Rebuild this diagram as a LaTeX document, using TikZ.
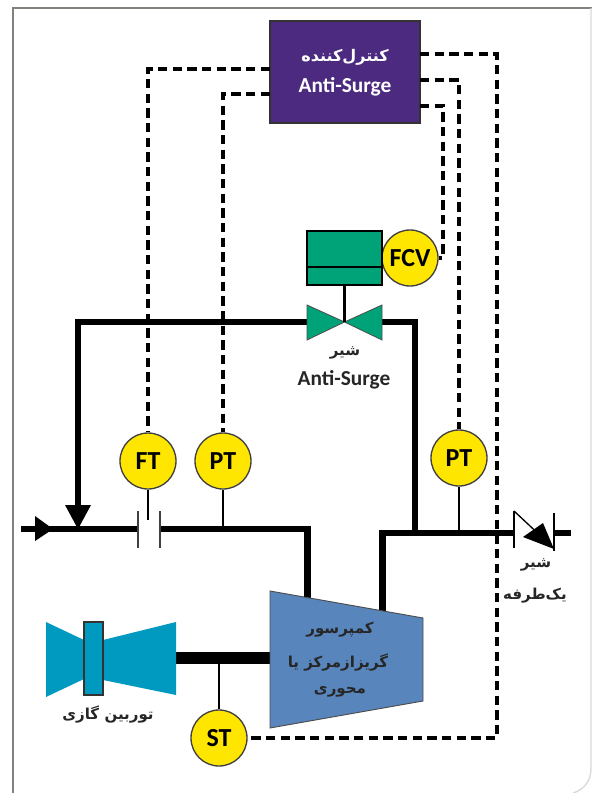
\documentclass[tikz,border=0pt]{standalone}
\usepackage{fontspec}
\usepackage{xcolor}
\usepackage{tikz}
\usetikzlibrary{calc,arrows.meta}
\setmainfont{Carlito}
\newfontfamily\arabicfont[Script=Arabic]{DejaVu Sans}
\TeXXeTstate=1
\newcommand{\fa}[1]{{\arabicfont\bfseries\beginR #1\endR}}
\definecolor{ctrlpurple}{RGB}{75,42,127}
\definecolor{valvegreen}{RGB}{0,163,120}
\definecolor{tagyellow}{RGB}{255,230,0}
\definecolor{compblue}{RGB}{88,133,187}
\definecolor{turbblue}{RGB}{0,153,192}
\definecolor{framegray}{RGB}{130,130,125}

\tikzset{
  tagnode/.style={circle,draw=black!75,line width=1pt,fill=tagyellow,minimum size=42pt,inner sep=0pt,font=\fontsize{19.5}{21}\selectfont\bfseries},
  signal/.style={line width=2.4pt,dash pattern=on 7pt off 4pt},
  pipe/.style={line width=4.7pt,line join=miter},
  stem/.style={line width=1.7pt},
  falabel/.style={font=\fontsize{11.3}{13}\selectfont,inner sep=0pt,text=black!85},
  enlabel/.style={font=\fontsize{16}{18}\selectfont\bfseries,inner sep=0pt}
}

\begin{document}
\begin{tikzpicture}[x=0.75pt,y=-0.75pt,>=Latex]
\useasboundingbox (0,0) rectangle (592,793);
% frame
\draw[framegray,line width=1.5pt] (592,8) -- (13,8) -- (13,793);
\draw[black!15,line width=1pt] (591,8) -- (591,768) .. controls (591,782) and (583,790) .. (573,793);

% controller
\node[draw=black!80,fill=ctrlpurple,line width=1pt,minimum width=112.5pt,minimum height=76.5pt,inner sep=0pt] (ctrl) at (345,72) {};
\node[falabel,text=white,font=\fontsize{12}{14}\selectfont] (ctrltitle) at (345,57) {\fa{کنترل‌کننده}};
\node[enlabel,text=white] (ctrlname) at (345,87) {Anti-Surge};
\coordinate (ctrlA) at (270,69);
\coordinate (ctrlB) at (270,94);
\coordinate (ctrlC) at (420,54);
\coordinate (ctrlD) at (420,80);
\coordinate (ctrlE) at (420,106);

% tags
\foreach \nm/\x/\y/\txt in {ftag/148/461/FT,ptin/223/461/PT,ptout/459/458/PT,fcv/410/258/FCV,sttag/219/738/ST}{
  \node[tagnode] (\nm) at (\x,\y) {\txt};
}

% recycle pipe
\coordinate (mixpt) at (78,529);
\coordinate (tee) at (415,533);
\draw[pipe] (307,322) -- (78,322) -- (78,510);
\draw[pipe] (382,322) -- (415,322) -- (tee);
\fill (65,505) -- (91,505) -- (mixpt) -- cycle;

% inlet and outlet
\draw[pipe] (21,529) -- (138,529);
\fill (35,516) -- (53,529) -- (35,541) -- cycle;
\draw[pipe] (160,529) -- (307.5,529) -- (307.5,600);
\draw[pipe] (382.5,612) -- (382.5,533) -- (514,533);
\draw[pipe] (554,533) -- (571,533);
\draw[black!75,line width=1.5pt] (138,511) -- (138,548);
\draw[black!75,line width=1.5pt] (160,511) -- (160,548);

% check valve
\draw[line width=1.5pt] (514,511) -- (514,548);
\draw[line width=1.5pt] (554,513) -- (554,551);
\draw[line width=1pt] (514,511) -- (545,540);
\fill (523,537) -- (543,523) -- (554,549) -- cycle;
\node[falabel] (chk1) at (536,565) {\fa{شیر}};
\node[falabel] (chk2) at (535,596) {\fa{یک‌طرفه}};

% anti-surge valve
\node[draw=black,fill=valvegreen,line width=1pt,minimum width=56.25pt,minimum height=40.5pt,inner sep=0pt] (act) at (344.5,258) {};
\draw[line width=1.2pt] (act.west |- 0,267) -- (act.east |- 0,267);
\coordinate (vlv) at (344.5,322);
\draw[fill=valvegreen,draw=black!70,line width=.6pt] (307,305) -- (307,340) -- (vlv) -- cycle;
\draw[fill=valvegreen,draw=black!70,line width=.6pt] (382,305) -- (382,340) -- (vlv) -- cycle;
\draw[stem] (act.south) -- (vlv);
\node[falabel] (vlv1) at (345,353) {\fa{شیر}};
\node[enlabel,text=black!85] (vlv2) at (344,380) {Anti-Surge};

% signals
\draw[signal] (ctrlA) -| (ftag.north);
\draw[signal] (ctrlB) -| (ptin.north);
\draw[signal] (ctrlC) -- (497,54) -- (497,738) -- (sttag.east);
\draw[signal] (ctrlD) -| (ptout.north);
\draw[signal] (ctrlE) -- (443,106) -- (443,258) -- (fcv.east);

% stems
\draw[stem] (ftag.south) -- (148,520);
\draw[stem] (ptin.south) -- (223,529);
\draw[stem] (ptout.south) -- (459,533);

% shaft, compressor, turbine
\draw[line width=9pt] (176,658) -- (270,658);
\draw[stem] (219,664) -- (sttag.north);
\draw[fill=compblue,draw=black!70,line width=.7pt] (270,591) -- (423,618) -- (423,701) -- (270,728) -- cycle;
\node[falabel] (comp1) at (340,630) {\fa{کمپرسور}};
\node[falabel] (comp2) at (338,662) {\fa{گریزازمرکز یا}};
\node[falabel] (comp3) at (340,692) {\fa{محوری}};
\fill[turbblue] (46,622) -- (84,640) -- (84,679) -- (46,697) -- cycle;
\fill[turbblue] (103,640) -- (176,622) -- (176,695) -- (103,680) -- cycle;
\draw[fill=turbblue,draw=black!80,line width=1.2pt] (84,622) rectangle (103,695);
\node[falabel] (turb) at (108,714) {\fa{توربین گازی}};
\end{tikzpicture}
\end{document}
